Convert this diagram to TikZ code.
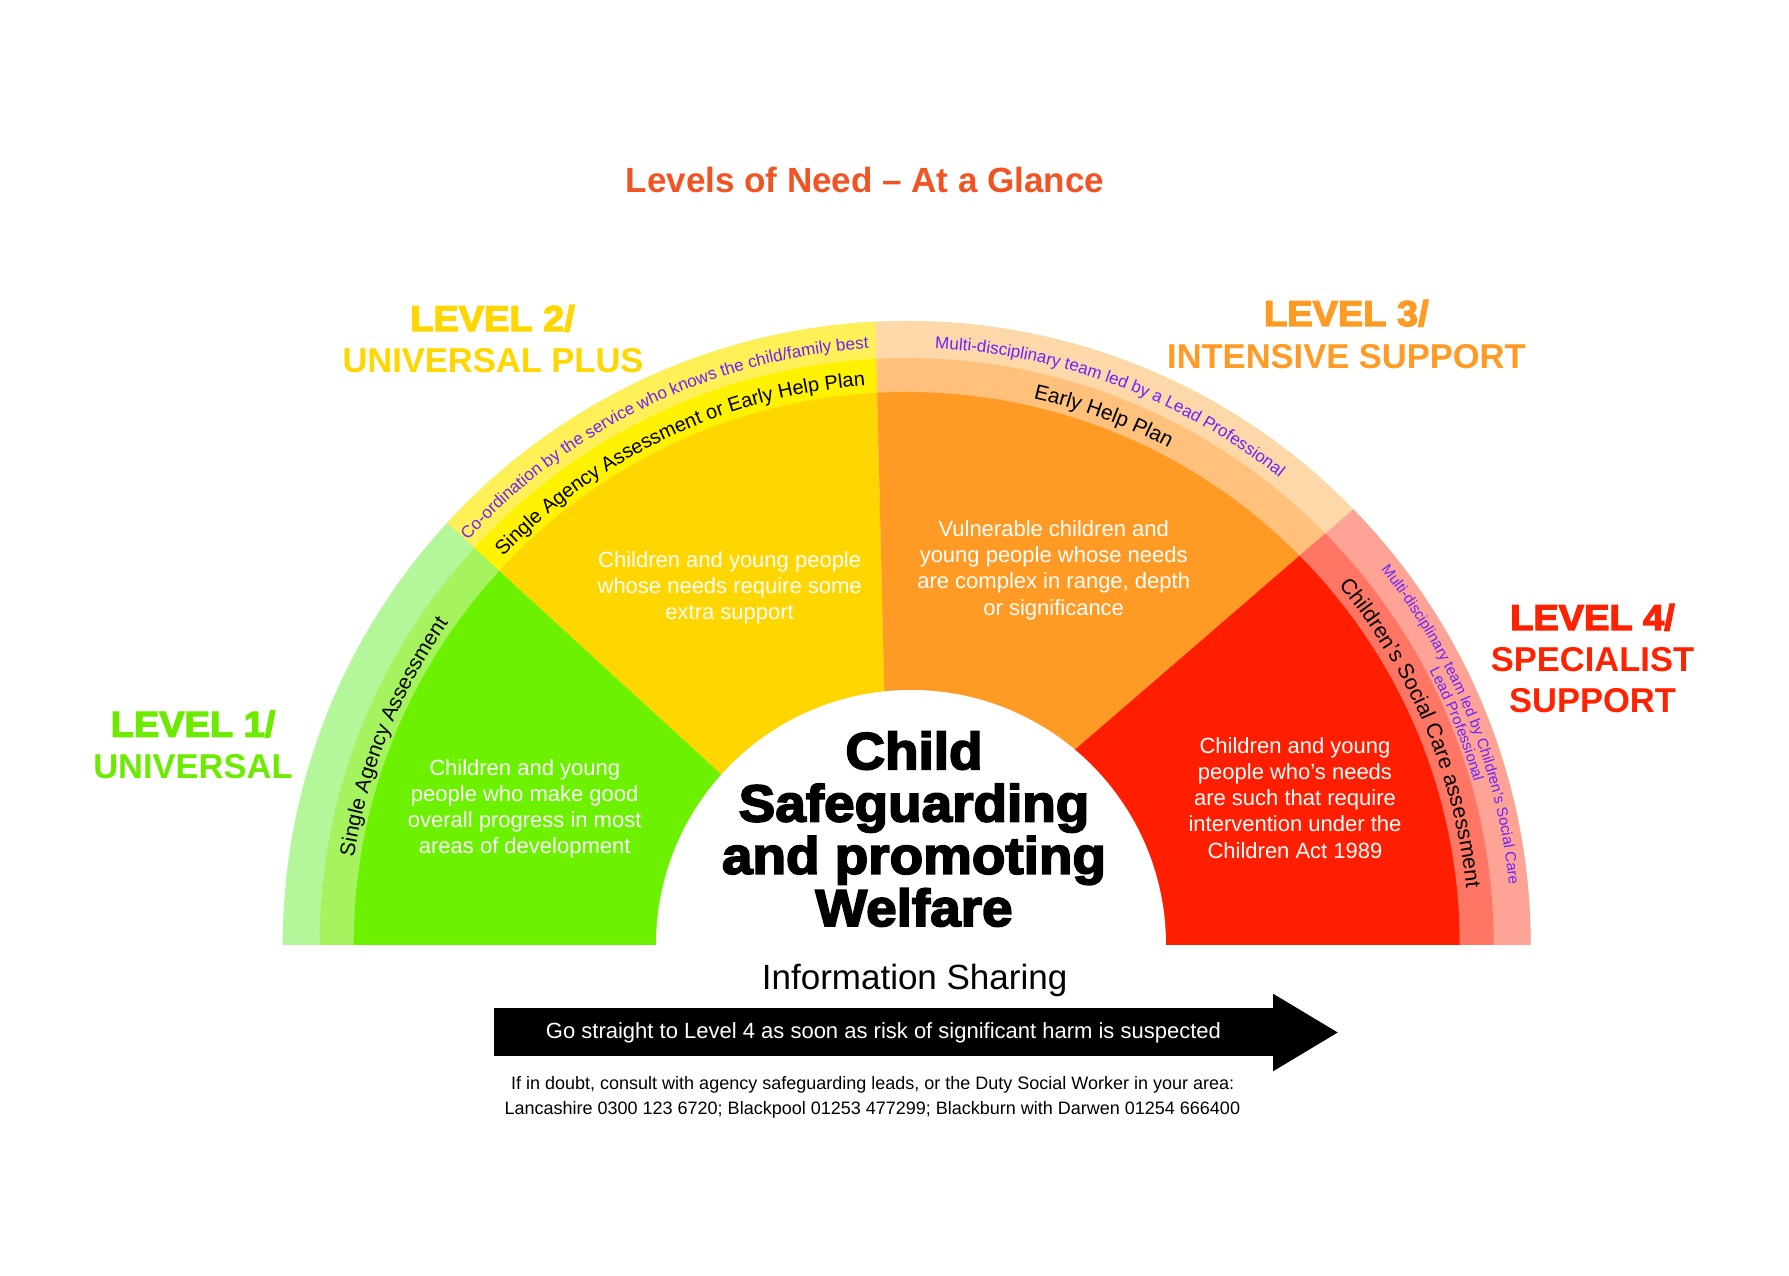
\documentclass[tikz,border=0pt]{standalone}
\usepackage{fontspec}
\setmainfont{Liberation Sans}
\newfontfamily\heavyfont{Liberation Sans}[BoldFeatures={FakeBold=3.5,FakeStretch=1.055}]
\usetikzlibrary{decorations.text}
\definecolor{gOut}{RGB}{180,247,155}
\definecolor{gMid}{RGB}{165,243,95}
\definecolor{gMain}{RGB}{108,242,0}
\definecolor{yOut}{RGB}{255,240,87}
\definecolor{yMid}{RGB}{255,242,0}
\definecolor{yMain}{RGB}{255,214,0}
\definecolor{oOut}{RGB}{255,216,170}
\definecolor{oMid}{RGB}{255,193,123}
\definecolor{oMain}{RGB}{255,155,37}
\definecolor{rOut}{RGB}{255,163,150}
\definecolor{rMid}{RGB}{255,118,100}
\definecolor{rMain}{RGB}{255,30,0}
\definecolor{lvGreen}{RGB}{108,235,0}
\definecolor{lvYellow}{RGB}{255,214,0}
\definecolor{lvOrange}{RGB}{255,155,37}
\definecolor{lvRed}{RGB}{255,34,0}
\definecolor{titleCol}{RGB}{242,83,34}
\definecolor{purp}{RGB}{105,35,255}
\newcommand\bandfill[3]{%
  \fill[#1] (624,0) arc[start angle=0,end angle=180,radius=624] -- cycle;
  \fill[#2] (587,0) arc[start angle=0,end angle=180,radius=587] -- cycle;
  \fill[#3] (553,0) arc[start angle=0,end angle=180,radius=553] -- cycle;
}
\begin{document}
\begin{tikzpicture}[x=1pt,y=1pt,
  lvhead/.style={anchor=base,inner sep=0pt,font=\heavyfont\bfseries\fontsize{36}{36}\selectfont},
  lvname/.style={anchor=base,inner sep=0pt,font=\bfseries\fontsize{34.5}{34.5}\selectfont},
  bodytext/.style={align=center,inner sep=0pt,text=white,font=\fontsize{22}{26.3}\selectfont},
  blacktxt/.style={decorate,decoration={text along path,text align=center,
      text={|\fontsize{21}{21}\selectfont|#1}}},
  smallblacktxt/.style={decorate,decoration={text along path,text align=center,
      text={|\fontsize{20}{20}\selectfont|#1}}},
  purptxt/.style={decorate,decoration={text along path,text align=center,text color=purp,
      text={|\fontsize{17}{17}\selectfont|#1}}},
  smallpurptxt/.style={decorate,decoration={text along path,text align=center,text color=purp,
      text={|\fontsize{15}{15}\selectfont|#1}}}
]
\useasboundingbox (-908,-331) rectangle (881,945);
\fill[white] (-908,-331) rectangle (881,945);

% sectors
\begin{scope}[shift={(-1.3,0)}]
  \bandfill{gOut}{gMid}{gMain}
\end{scope}
\begin{scope}
  \clip (0,0) -- (137.5:1000) -- (-41.5,1000) -- (-17.6,0) -- cycle;
  \begin{scope}[shift={(-1.3,0)}]\bandfill{yOut}{yMid}{yMain}\end{scope}
\end{scope}
\begin{scope}
  \clip (-18.4,35.1) -- (-41.5,1000) -- (940.1,863) -- cycle;
  \begin{scope}[shift={(-1.3,0)}]\bandfill{oOut}{oMid}{oMain}\end{scope}
\end{scope}
\begin{scope}
  \clip (-59.1,0) -- (940.1,863) -- (1000,863) -- (1000,0) -- cycle;
  \begin{scope}[shift={(-1.3,0)}]\bandfill{rOut}{rMid}{rMain}\end{scope}
\end{scope}
\fill[white] (258,0) arc[start angle=0,end angle=180,radius=255] -- cycle;

% curved band texts
\path[blacktxt={Single Agency Assessment}] (188:561) arc[start angle=188,end angle=128,radius=561];
\path[smallblacktxt={Single Agency Assessment or Early Help Plan}] (150.3:561) arc[start angle=150.3,end angle=80.3,radius=561];
\path[purptxt={Co-ordination by the service who knows the child/family best}] (150.6:598) arc[start angle=150.6,end angle=80.6,radius=598];
\path[purptxt={Multi-disciplinary team led by a Lead Professional}] (104.5:597) arc[start angle=104.5,end angle=34.5,radius=597];
\path[blacktxt={Early Help Plan}] (99.7:561) arc[start angle=99.7,end angle=39.7,radius=561];
\path[decorate,decoration={text along path,text align=center,
      text={|\fontsize{21.5}{21.5}\selectfont|Children’s Social Care assessment}}]
  (57.85:561) arc[start angle=57.85,end angle=-12.15,radius=561];
\path[smallpurptxt={Multi-disciplinary team led by Children’s Social Care}] (57.1:604) arc[start angle=57.1,end angle=-12.9,radius=604];
\path[smallpurptxt={Lead Professional}] (51.9:589) arc[start angle=51.9,end angle=-8.1,radius=589];

% body texts
\node[bodytext] (l1text) at (-383.3,136.2) {Children and young\\people who make good\\overall progress in most\\areas of development};
\node[bodytext] (l2text) at (-178.3,357) {Children and young people\\whose needs require some\\extra support};
\node[bodytext] (l3text) at (145.7,375) {Vulnerable children and\\young people whose needs\\are complex in range, depth\\or significance};
\node[bodytext] (l4text) at (387,147.2) {Children and young\\people who’s needs\\are such that require\\intervention under the\\Children Act 1989};

% centre
\node[align=center,inner sep=0pt,font=\heavyfont\bfseries\fontsize{52}{52.3}\selectfont] (centre) at (6,116) {Child\\Safeguarding\\and promoting\\Welfare};

% title
\node[anchor=base,inner sep=0pt,text=titleCol,font=\bfseries\fontsize{35}{35}\selectfont] (title) at (-43,752) {Levels of Need – At a Glance};

% level labels
\node[lvhead,text=lvGreen] (l1a) at (-715,208.3) {LEVEL 1/};
\node[lvname,text=lvGreen] (l1b) at (-715,166) {UNIVERSAL};
\node[lvhead,text=lvYellow] (l2a) at (-415.5,614) {LEVEL 2/};
\node[lvname,text=lvYellow] (l2b) at (-415,572.4) {UNIVERSAL PLUS};
\node[lvhead,text=lvOrange] (l3a) at (438.4,619) {LEVEL 3/};
\node[lvname,text=lvOrange] (l3b) at (438.4,576.6) {INTENSIVE SUPPORT};
\node[lvhead,text=lvRed] (l4a) at (684.5,315) {LEVEL 4/};
\node[lvname,text=lvRed] (l4b) at (684.5,273.3) {SPECIALIST};
\node[lvname,text=lvRed] (l4c) at (684.5,232) {SUPPORT};

% information sharing and arrow
\node[anchor=base,inner sep=0pt,font=\fontsize{35}{35}\selectfont] (info) at (6.6,-45) {Information Sharing};
\node[fill=black,text=white,minimum width=779,minimum height=48,inner sep=0pt,
      font=\fontsize{22}{22}\selectfont] (gobox) at (-24.5,-87.5) {Go straight to Level 4 as soon as risk of significant harm is suspected};
\fill[black] ([yshift=14.5pt]gobox.north east) -- ([xshift=64.5pt]gobox.east) -- ([yshift=-14.5pt]gobox.south east) -- cycle;

% footer
\node[anchor=base,inner sep=0pt,font=\fontsize{18}{18}\selectfont] (foot1) at (-35.3,-145) {If in doubt, consult with agency safeguarding leads, or the Duty Social Worker in your area:};
\node[anchor=base,inner sep=0pt,font=\fontsize{18}{18}\selectfont] (foot2) at (-35.6,-170) {Lancashire 0300 123 6720; Blackpool 01253 477299; Blackburn with Darwen 01254 666400};
\end{tikzpicture}
\end{document}
